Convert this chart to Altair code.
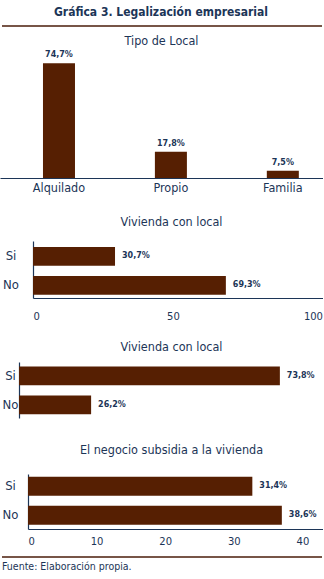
import altair as alt
import pandas as pd

# ---- data ----
main_title = "Gráfica 3. Legalización empresarial"
footer_text = "Fuente: Elaboración propia."

tipo_title = "Tipo de Local"
tipo_cats = ["Alquilado", "Propio", "Familia"]
tipo_vals = [74.7, 17.1, 4.7]
tipo_labels = ["74,7%", "17,8%", "7,5%"]

viv1_title = "Vivienda con local"
viv1_cats = ["Si", "No"]
viv1_vals = [29.3, 68.9]
viv1_labels = ["30,7%", "69,3%"]
viv1_ticks = [0, 50, 100]

viv2_title = "Vivienda con local"
viv2_cats = ["Si", "No"]
viv2_vals = [73.8, 20.4]
viv2_labels = ["73,8%", "26,2%"]

neg_title = "El negocio subsidia a la vivienda"
neg_cats = ["Si", "No"]
neg_vals = [32.7, 37.0]
neg_labels = ["31,4%", "38,6%"]
neg_ticks = [0, 10, 20, 30, 40]

# ---- style ----
NAVY = "#1c3557"
BAR = "#561f02"
BROWN = "#4a1c0a"
NARROW = "DejaVu Sans Condensed, sans-serif"
WIDE = "DejaVu Sans, Verdana, sans-serif"
W = 323
TFS = 12.5


def spacer(h):
    return alt.Chart(pd.DataFrame({"a": [0]})).mark_rule(opacity=0).encode(
        x=alt.value(0), y=alt.value(0)
    ).properties(width=W, height=h)


def ttl(text, offset, dx=0):
    return alt.TitleParams(text=text, font=NARROW, fontSize=TFS, fontWeight="normal",
                           color=NAVY, anchor="middle", offset=offset, dx=dx,
                           baseline="alphabetic")


# header
hdr_df = pd.DataFrame({"t": [main_title]})
header = alt.layer(
    alt.Chart(hdr_df).mark_text(font=NARROW, fontSize=12, fontWeight="bold", color=NAVY,
                                baseline="middle", align="center").encode(
        x=alt.value(161), y=alt.value(12), text="t:N"),
    alt.Chart(hdr_df).mark_rule(color=BROWN, strokeWidth=1.5).encode(
        x=alt.value(2), x2=alt.value(322), y=alt.value(26)),
).properties(width=W, height=34)

# chart 1
tipo_df = pd.DataFrame({"cat": tipo_cats, "val": tipo_vals, "lab": tipo_labels})
xb = alt.X("cat:N", sort=tipo_cats, title=None,
           scale=alt.Scale(paddingInner=0.714, paddingOuter=0.3, align=0.64),
           axis=alt.Axis(labelAngle=0, ticks=False, tickSize=0, labelPadding=3,
                         labelFont=NARROW, labelFontSize=12.5, labelColor=NAVY,
                         domainColor=NAVY, domainWidth=1.2))
yb = alt.Y("val:Q", scale=alt.Scale(domain=[0, 80], nice=False), axis=None)
base1 = alt.Chart(tipo_df).encode(x=xb, y=yb)
chart1 = alt.layer(
    base1.mark_bar(color=BAR),
    base1.mark_text(font=WIDE, fontSize=8, fontWeight="bold", color=NAVY,
                    baseline="bottom", dy=-4).encode(text="lab:N"),
).properties(width=W, height=123, title=ttl(tipo_title, -6))


def hbar(cats, vals, labs, title, toff, x0, dmax, height, po, align, label_pad,
         ticks=None, xlab_pad=10):
    df = pd.DataFrame({"cat": cats, "val": vals, "lab": labs})
    if ticks is None:
        xaxis = None
    else:
        xaxis = alt.Axis(values=ticks, ticks=False, tickSize=0, grid=False,
                         labelPadding=xlab_pad, labelFont=WIDE, labelFontSize=10,
                         labelColor=NAVY, domainColor=NAVY, domainWidth=1.2)
    x = alt.X("val:Q", title=None,
              scale=alt.Scale(domain=[0, dmax], range=[x0, W], nice=False, zero=True),
              axis=xaxis)
    y = alt.Y("cat:N", sort=cats, title=None,
              scale=alt.Scale(paddingInner=0.35, paddingOuter=po, align=align),
              axis=alt.Axis(offset=-x0, ticks=False, tickSize=0, labelPadding=label_pad,
                            labelAlign="center", labelBaseline="middle",
                            labelFont=NARROW, labelFontSize=13, labelColor=NAVY,
                            domainColor=NAVY, domainWidth=1.2))
    base = alt.Chart(df).encode(x=x, y=y)
    return alt.layer(
        base.mark_bar(color=BAR),
        base.mark_text(font=WIDE, fontSize=8, fontWeight="bold", color=NAVY,
                       align="left", baseline="middle", dx=7).encode(text="lab:N"),
    ).properties(width=W, height=height, title=ttl(title, toff, dx=10))


chart2 = hbar(viv1_cats, viv1_vals, viv1_labels, viv1_title, 3, 33, 103.6, 57, 0.158, 0.65,
              22.5, ticks=viv1_ticks, xlab_pad=13)
chart3 = hbar(viv2_cats, viv2_vals, viv2_labels, viv2_title, -1, 19, 86, 56, 0.14, 0.55, 9)
chart4 = hbar(neg_cats, neg_vals, neg_labels, neg_title, 8, 28, 43, 55, 0.123, 0.4, 18,
              ticks=neg_ticks, xlab_pad=7)

# footer
ftr_df = pd.DataFrame({"t": [footer_text]})
footer = alt.layer(
    alt.Chart(ftr_df).mark_rule(color=BROWN, strokeWidth=1.5).encode(
        x=alt.value(2), x2=alt.value(322), y=alt.value(1)),
    alt.Chart(ftr_df).mark_text(font=NARROW, fontSize=10.5, color=NAVY,
                                align="left", baseline="middle").encode(
        x=alt.value(2), y=alt.value(11), text="t:N"),
).properties(width=W, height=20)

chart = alt.vconcat(
    header, chart1, spacer(21), chart2, spacer(19), chart3, spacer(25), chart4,
    spacer(10), footer, spacing=0
).properties(padding={"left": 0, "top": 0, "right": 0, "bottom": 0}).configure_view(
    stroke=None
).configure_concat(spacing=0)

chart.save("out.html", embed_options={"renderer": "svg", "actions": False})
